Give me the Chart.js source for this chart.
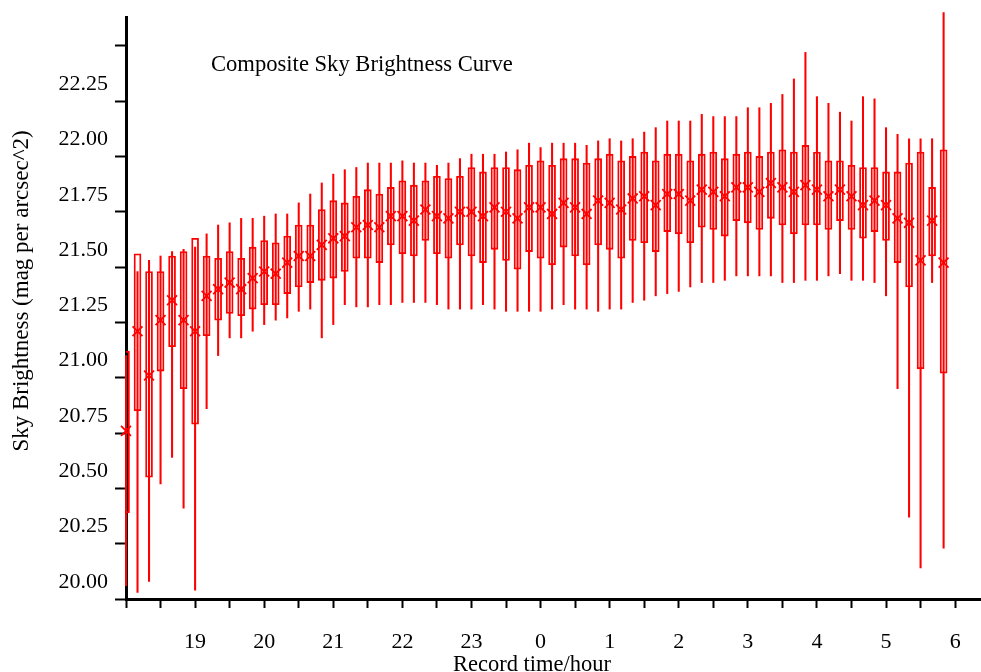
<!DOCTYPE html>
<html>
<head>
<meta charset="utf-8">
<title>Composite Sky Brightness Curve</title>
<script src="https://cdn.jsdelivr.net/npm/chart.js@4.4.1/dist/chart.umd.min.js"></script>
<style>
  html, body { margin: 0; padding: 0; background: #fff; }
  canvas { display: block; }
</style>
</head>
<body>
<canvas id="skyChart" width="981" height="672"></canvas>
<script>
// record times, every 10 minutes from 18:00 to 05:50
const times = [
    '18:00','18:10','18:20','18:30','18:40','18:50',
    '19:00','19:10','19:20','19:30','19:40','19:50',
    '20:00','20:10','20:20','20:30','20:40','20:50',
    '21:00','21:10','21:20','21:30','21:40','21:50',
    '22:00','22:10','22:20','22:30','22:40','22:50',
    '23:00','23:10','23:20','23:30','23:40','23:50',
    '00:00','00:10','00:20','00:30','00:40','00:50',
    '01:00','01:10','01:20','01:30','01:40','01:50',
    '02:00','02:10','02:20','02:30','02:40','02:50',
    '03:00','03:10','03:20','03:30','03:40','03:50',
    '04:00','04:10','04:20','04:30','04:40','04:50',
    '05:00','05:10','05:20','05:30','05:40','05:50'
];

// whisker ends (mag per arcsec^2)
const whiskerHigh = [
    21.10, 21.48, 21.53, 21.55, 21.57, 21.58, 21.59, 21.65, 21.69, 21.70, 21.72, 21.72,
    21.73, 21.74, 21.74, 21.79, 21.83, 21.88, 21.92, 21.94, 21.95, 21.97, 21.97, 21.97,
    21.98, 21.97, 21.97, 21.96, 21.97, 21.99, 22.01, 22.01, 22.01, 22.02, 22.03, 22.06,
    22.04, 22.06, 22.06, 22.06, 22.05, 22.07, 22.08, 22.07, 22.08, 22.11, 22.13, 22.16,
    22.16, 22.16, 22.19, 22.18, 22.18, 22.18, 22.22, 22.22, 22.24, 22.28, 22.35, 22.47,
    22.27, 22.24, 22.20, 22.16, 22.27, 22.26, 22.13, 22.10, 22.08, 22.08, 22.08, 22.65
];
const whiskerLow = [
    20.06, 20.03, 20.08, 20.52, 20.64, 20.41, 20.04, 20.86, 21.10, 21.18, 21.18, 21.21,
    21.24, 21.26, 21.27, 21.30, 21.31, 21.18, 21.24, 21.33, 21.32, 21.32, 21.33, 21.33,
    21.34, 21.34, 21.34, 21.33, 21.31, 21.31, 21.31, 21.33, 21.31, 21.30, 21.30, 21.30,
    21.30, 21.31, 21.33, 21.31, 21.31, 21.30, 21.31, 21.31, 21.34, 21.35, 21.37, 21.38,
    21.39, 21.41, 21.43, 21.43, 21.44, 21.46, 21.46, 21.46, 21.46, 21.43, 21.43, 21.44,
    21.44, 21.46, 21.47, 21.44, 21.44, 21.43, 21.37, 20.95, 20.37, 20.14, 21.43, 20.23
];

// box edges
const boxHigh = [
    21.12, 21.56, 21.48, 21.48, 21.55, 21.57, 21.63, 21.55, 21.54, 21.57, 21.54, 21.59,
    21.62, 21.61, 21.64, 21.69, 21.69, 21.76, 21.80, 21.79, 21.82, 21.85, 21.83, 21.86,
    21.89, 21.87, 21.89, 21.91, 21.90, 21.91, 21.95, 21.93, 21.95, 21.95, 21.94, 21.96,
    21.98, 21.96, 21.99, 21.99, 21.97, 21.99, 22.01, 21.98, 22.00, 22.02, 21.98, 22.01,
    22.01, 21.98, 22.01, 22.02, 21.99, 22.01, 22.02, 22.00, 22.02, 22.03, 22.02, 22.05,
    22.02, 21.98, 21.98, 21.96, 21.95, 21.95, 21.93, 21.93, 21.97, 22.02, 21.86, 22.03
];
const boxLow = [
    20.39, 20.85, 20.55, 21.03, 21.14, 20.95, 20.79, 21.19, 21.26, 21.29, 21.28, 21.31,
    21.33, 21.33, 21.38, 21.41, 21.43, 21.44, 21.45, 21.48, 21.54, 21.54, 21.52, 21.60,
    21.56, 21.55, 21.62, 21.56, 21.54, 21.60, 21.55, 21.52, 21.58, 21.53, 21.49, 21.57,
    21.54, 21.51, 21.59, 21.55, 21.51, 21.60, 21.58, 21.54, 21.62, 21.61, 21.57, 21.66,
    21.65, 21.61, 21.68, 21.67, 21.64, 21.71, 21.70, 21.67, 21.72, 21.69, 21.65, 21.69,
    21.69, 21.67, 21.71, 21.67, 21.63, 21.66, 21.62, 21.52, 21.41, 21.04, 21.55, 21.02
];

// centre value marked with an x
const centre = [
    20.76, 21.21, 21.01, 21.26, 21.35, 21.26, 21.21, 21.37, 21.40, 21.43, 21.40, 21.45,
    21.48, 21.47, 21.52, 21.55, 21.55, 21.60, 21.63, 21.64, 21.68, 21.69, 21.68, 21.73,
    21.73, 21.71, 21.76, 21.73, 21.72, 21.75, 21.75, 21.73, 21.77, 21.75, 21.72, 21.77,
    21.77, 21.74, 21.79, 21.77, 21.74, 21.80, 21.79, 21.76, 21.81, 21.82, 21.78, 21.83,
    21.83, 21.80, 21.85, 21.84, 21.82, 21.86, 21.86, 21.84, 21.88, 21.86, 21.84, 21.87,
    21.85, 21.82, 21.85, 21.82, 21.78, 21.80, 21.78, 21.72, 21.70, 21.53, 21.71, 21.52
];

const yTicks = [20, 20.25, 20.5, 20.75, 21, 21.25, 21.5, 21.75, 22, 22.25, 22.5];
const yTickLabels = ['20.00', '20.25', '20.50', '20.75', '21.00', '21.25', '21.50', '21.75', '22.00', '22.25', ''];

const serif = "'Liberation Serif', 'Times New Roman', serif";
const xMax = 12.36;   // right end of the time axis, hours after 18:00

// hours elapsed since 18:00
function toHours(t) {
    const [h, m] = t.split(':').map(Number);
    return ((h - 18 + 24) % 24) + m / 60;
}
const xs = times.map(toHours);

const whiskerData = xs.map((x, i) => ({ x: x, y: [whiskerLow[i], whiskerHigh[i]] }));
const boxData = xs.map((x, i) => ({ x: x, y: [boxLow[i], boxHigh[i]] }));
const centreData = xs.map((x, i) => ({ x: x, y: centre[i] }));

// titles drawn as text on the canvas
const titlesPlugin = {
    id: 'titles',
    afterDraw(chart) {
        const ctx = chart.ctx;
        ctx.save();
        ctx.fillStyle = '#000';
        ctx.textBaseline = 'alphabetic';
        ctx.font = '22.6px ' + serif;
        ctx.textAlign = 'left';
        ctx.fillText('Composite Sky Brightness Curve', 211, 71);

        ctx.font = '22.5px ' + serif;
        ctx.textAlign = 'center';
        ctx.fillText('Record time/hour', 532, 671);

        ctx.font = '23px ' + serif;
        ctx.translate(22, 291);
        ctx.rotate(-Math.PI / 2);
        ctx.textBaseline = 'middle';
        ctx.fillText('Sky Brightness (mag per arcsec^2)', 0, 0);
        ctx.restore();
    }
};

const ctx = document.getElementById('skyChart').getContext('2d');
new Chart(ctx, {
    type: 'bar',
    data: {
        datasets: [
            {
                label: 'range',
                data: whiskerData,
                backgroundColor: 'rgb(255,0,0)',
                borderWidth: 0,
                barThickness: 1.4,
                grouped: false,
                clip: false,
                order: 3
            },
            {
                label: 'box',
                data: boxData,
                backgroundColor: 'rgba(255,255,255,0)',
                borderColor: 'rgb(255,0,0)',
                borderWidth: 1.2,
                borderSkipped: false,
                barThickness: 7,
                grouped: false,
                order: 2
            },
            {
                type: 'scatter',
                label: 'centre',
                data: centreData,
                pointStyle: 'crossRot',
                pointRadius: 7,
                pointBorderWidth: 1.8,
                borderColor: 'rgb(255,0,0)',
                backgroundColor: 'rgb(255,0,0)',
                clip: false,
                order: 1
            }
        ]
    },
    options: {
        responsive: false,
        animation: false,
        devicePixelRatio: 1,
        layout: { autoPadding: false, padding: { top: 17, right: 1, left: 0, bottom: 0 } },
        plugins: {
            legend: { display: false },
            tooltip: { enabled: false }
        },
        scales: {
            x: {
                type: 'linear',
                min: 0,
                max: xMax,
                offset: false,
                afterFit(scale) {
                    scale.height = 73;
                    scale.paddingLeft = 0;
                    scale.paddingRight = 0;
                },
                afterBuildTicks(scale) {
                    const ticks = [];
                    for (let i = 0; i <= 24; i++) ticks.push({ value: i / 2 });
                    scale.ticks = ticks;
                },
                grid: {
                    drawOnChartArea: false,
                    offset: false,
                    tickLength: 9,
                    tickWidth: 2,
                    tickColor: '#000'
                },
                border: { display: true, color: '#000', width: 3 },
                ticks: {
                    autoSkip: false,
                    maxRotation: 0,
                    padding: 21,
                    color: '#000',
                    font: { family: serif, size: 22 },
                    callback: v => (Number.isInteger(v) && v > 0) ? String((18 + v) % 24) : ''
                }
            },
            y: {
                min: 20,
                max: 22.63,
                afterFit(scale) {
                    scale.width = 126;
                    scale.paddingTop = 0;
                    scale.paddingBottom = 0;
                },
                afterBuildTicks(scale) {
                    scale.ticks = yTicks.map(v => ({ value: v }));
                },
                grid: {
                    drawOnChartArea: false,
                    tickLength: 11,
                    tickWidth: 2,
                    tickColor: '#000'
                },
                border: { display: true, color: '#000', width: 3 },
                ticks: {
                    padding: 7,
                    labelOffset: -17,
                    color: '#000',
                    font: { family: serif, size: 22 },
                    callback: (v, i) => yTickLabels[i]
                }
            }
        }
    },
    plugins: [titlesPlugin]
});
</script>
</body>
</html>
